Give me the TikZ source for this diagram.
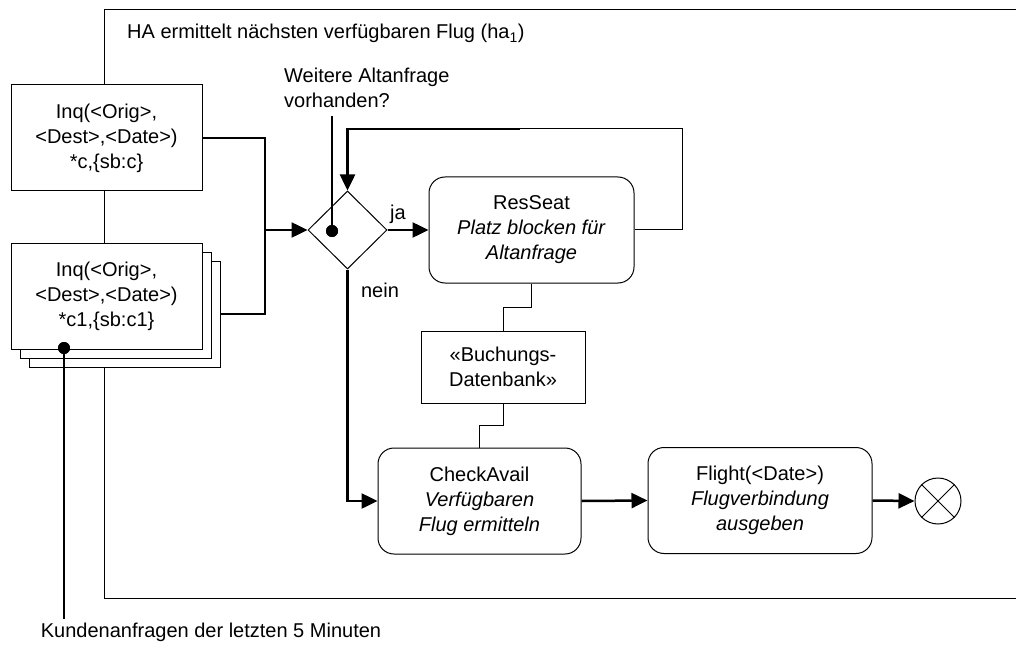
\documentclass[tikz,border=0pt]{standalone}
\usepackage{fontspec}
\setmainfont{Liberation Sans}
\usetikzlibrary{arrows.meta,shapes.geometric,calc}
\begin{document}
\begin{tikzpicture}[x=1pt,y=-1pt,
  font=\fontsize{20}{25}\selectfont,
  conn/.style={line width=1pt},
  heavy/.style={line width=2.5pt},
  flow/.style={heavy,-{Triangle[length=16pt,width=15pt]}},
  objbox/.style={draw,line width=1pt,fill=white,inner sep=0pt,align=center,
    minimum width=191pt,minimum height=106pt},
  actbox/.style={draw,line width=1pt,fill=white,rounded corners=16pt,inner sep=0pt,
    align=center,minimum height=106pt},
  store/.style={draw,line width=1pt,fill=white,inner sep=0pt,align=center,
    minimum width=164pt,minimum height=72pt},
  dot/.style={circle,fill=black,inner sep=0pt,minimum size=12pt},
  lbl/.style={inner sep=0pt}]
\useasboundingbox (0,0) rectangle (1016,652);

% activity frame
\draw[conn] (1017,10) -- (104,10) -- (104,598) -- (1017,598);
\node[lbl,anchor=base west] (title) at (127,39) {HA ermittelt nächsten verfügbaren Flug (ha$_{\mathrm{1}}$)};

% object nodes
\node[objbox] (inq1) at (106.5,138) {Inq(<Orig>,\\<Dest>,<Date>)\\*c,\{sb:c\}};
\node[objbox] (inq2c) at (124.5,314) {};
\node[objbox] (inq2b) at (115.5,305) {};
\node[objbox] (inq2) at (106.5,296) {Inq(<Orig>,\\<Dest>,<Date>)\\*c1,\{sb:c1\}};

% decision
\node[diamond,draw,line width=1pt,fill=white,aspect=1,inner sep=0pt,
  minimum width=79pt,minimum height=78pt] (dec) at (347.5,230) {};
\node[dot] (decdot) at (332,231) {};
\coordinate (guardtop) at (332,116);
\node[lbl,anchor=west,align=left] (guard) at (284,88) {Weitere Altanfrage\\vorhanden?};

% actions
\node[actbox,minimum width=205pt] (resseat) at (531.5,230)
  {ResSeat\\\textit{Platz blocken für}\\\textit{Altanfrage}};
\node[store] (db) at (503,367) {«Buchungs-\\Datenbank»};
\node[actbox,minimum width=203pt] (check) at (479.5,501)
  {CheckAvail\\\textit{Verfügbaren}\\\textit{Flug ermitteln}};
\node[actbox,minimum width=224pt] (flight) at (760,500.5)
  {Flight(<Date>)\\\textit{Flugverbindung}\\\textit{ausgeben}};
\node[circle,draw,line width=1pt,fill=white,inner sep=0pt,minimum size=46pt] (final) at (938,501) {};
\draw[conn] (final.north west) -- (final.south east);
\draw[conn] (final.north east) -- (final.south west);

% inputs into the decision
\coordinate (join) at (265,230);
\draw[heavy] (inq1.east) -| (join);
\draw[heavy] (inq2c.east) -| (join);
\draw[flow] (join) -- (dec.west);

% guard pin
\draw[heavy] (decdot.center) -- (guardtop);
\node[dot] at (decdot) {};

% ja / nein branches
\draw[flow] (dec.east) -- (resseat.west);
\node[lbl] (ja) at (398,214) {ja};
\draw[flow] (dec.south) |- (check.west);
\node[lbl] (nein) at (380,290) {nein};

% loop back to the decision
\coordinate (loopbreak) at (520,129);
\draw[conn] (resseat.east) -- ++(48,0) |- (loopbreak);
\draw[flow] (loopbreak) -| (dec.north);

% data store links
\draw[conn] (resseat.south) -- ++(0,24) -| (db.north);
\draw[conn] (db.south) -- ++(0,22) -| (check.north);

% main flow
\draw[flow] (check.east) -- (flight.west);
\draw[flow] (flight.east) -- (final.west);

% pin for recent inquiries
\node[dot] (inqdot) at (64,348) {};
\coordinate (inqend) at (64,619);
\draw[heavy] (inqdot.center) -- (inqend);
\node[dot] at (inqdot) {};
\node[lbl] (inqlabel) at (211,632) {Kundenanfragen der letzten 5 Minuten};
\end{tikzpicture}
\end{document}
